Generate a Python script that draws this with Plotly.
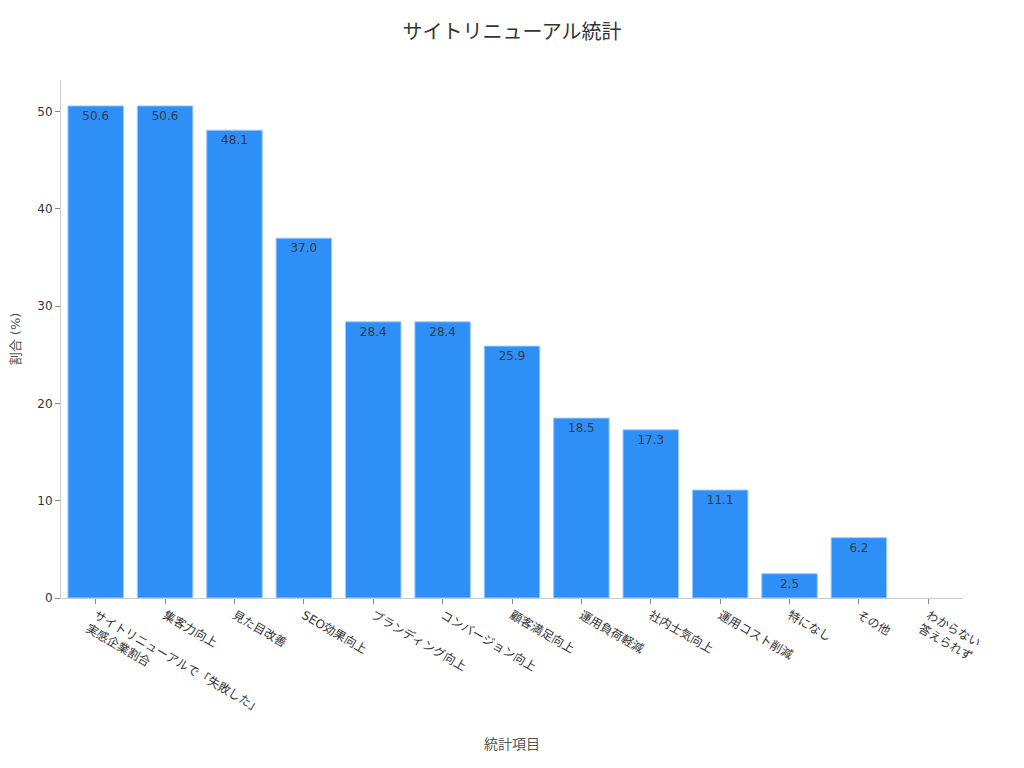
import plotly.graph_objects as go

# Data
categories = [
    "サイトリニューアルで「失敗した」<br>実感企業割合",
    "集客力向上",
    "見た目改善",
    "SEO効果向上",
    "ブランディング向上",
    "コンバージョン向上",
    "顧客満足向上",
    "運用負荷軽減",
    "社内士気向上",
    "運用コスト削減",
    "特になし",
    "その他",
    "わからない<br>答えられず",
]
values = [50.6, 50.6, 48.1, 37.0, 28.4, 28.4, 25.9, 18.5, 17.3, 11.1, 2.5, 6.2, 0.0]
labels = [f"{v:.1f}" if v > 0 else "" for v in values]

FONT = "DejaVu Sans, Noto Sans CJK JP, sans-serif"

fig = go.Figure()
fig.add_trace(go.Bar(
    x=categories,
    y=values,
    text=labels,
    textposition="inside",
    insidetextanchor="end",
    textfont=dict(color="#3a3a3a", size=12, family=FONT),
    marker=dict(
        color="#2E90F7",
        line=dict(color="#9ccbfa", width=[1 if v > 0 else 0 for v in values]),
    ),
    hoverinfo="x+y",
))

# the page has an 8px body margin, so the figure is sized to fit inside it
fig.update_layout(
    template="simple_white",
    width=1008,
    height=752,
    font=dict(family=FONT, size=12, color="#333333"),
    title=dict(text="サイトリニューアル統計", x=0.5, xanchor="center",
               y=0.968, yanchor="middle",
               font=dict(size=20, color="#333333")),
    margin=dict(l=53, r=53, t=72, b=162),
    bargap=0.2,
    showlegend=False,
    xaxis=dict(
        title=dict(text="統計項目", font=dict(size=14, color="#555555"), standoff=10),
        tickangle=30,
        ticks="outside",
        ticklen=5,
        tickcolor="#888888",
        linecolor="#cccccc",
        tickfont=dict(size=12, color="#333333"),
        automargin=False,
    ),
    yaxis=dict(
        title=dict(text="割合 (%)", font=dict(size=13, color="#555555")),
        ticks="outside",
        ticklen=5,
        tickcolor="#888888",
        linecolor="#cccccc",
        tickfont=dict(size=12, color="#333333"),
        dtick=10,
        automargin=False,
    ),
)

fig.write_html("out.html")
